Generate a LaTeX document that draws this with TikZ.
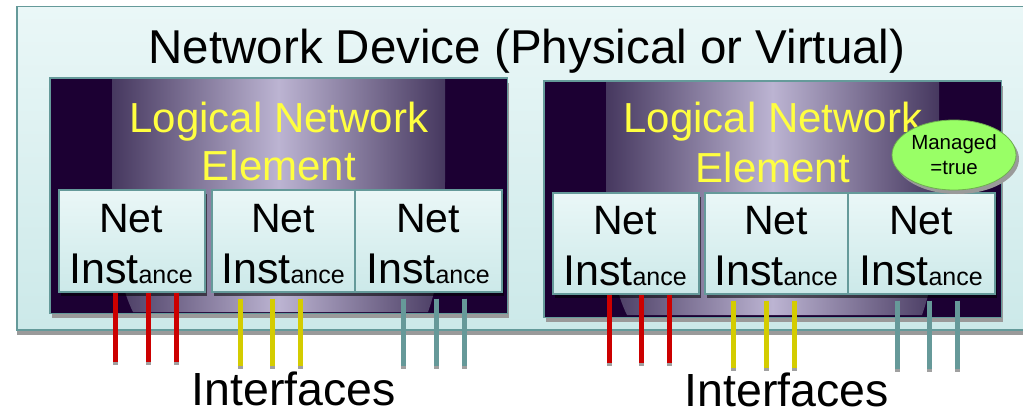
\documentclass[tikz,border=0pt]{standalone}
\usepackage{fontspec}
\setmainfont{Liberation Sans}
\usetikzlibrary{shadows,shapes.geometric}
\definecolor{boxtop}{HTML}{EAF7F7}
\definecolor{boxbot}{HTML}{CCE9E9}
\definecolor{tealb}{HTML}{659A9A}
\definecolor{lnebg}{HTML}{1C0033}
\definecolor{glowedge}{HTML}{46385F}
\definecolor{glowmid}{HTML}{BCB4D2}
\definecolor{lneyellow}{HTML}{FFFF40}
\definecolor{mgreen}{HTML}{99FF66}
\definecolor{mgreenb}{HTML}{6FAF50}
\definecolor{ifred}{HTML}{CC0000}
\definecolor{ifyellow}{HTML}{D4CC00}
\definecolor{ifteal}{HTML}{669999}
\definecolor{shadowgray}{HTML}{9A9A9A}
\definecolor{tipgray}{HTML}{A0A0A0}
\begin{document}
\begin{tikzpicture}[x=1pt,y=-1pt,
  devbox/.style={draw=tealb, line width=1.5pt, top color=boxtop, bottom color=boxbot,
    drop shadow={shadow xshift=0pt, shadow yshift=-5pt, fill=shadowgray, opacity=1},
    anchor=north west, inner sep=0pt},
  lnebox/.style={fill=lnebg, anchor=north west, inner sep=0pt,
    drop shadow={shadow xshift=2pt, shadow yshift=-5pt, fill=shadowgray, opacity=1}},
  lneborder/.style={draw=tealb, line width=1.5pt},
  glow/.style={left color=glowedge, right color=glowedge, middle color=glowmid},
  nibox/.style={draw=tealb, line width=1.5pt, top color=boxtop, bottom color=boxbot,
    anchor=north west, inner sep=0pt,
    drop shadow={shadow xshift=2pt, shadow yshift=-4pt, fill=black, opacity=0.55}},
  titletext/.style={anchor=base, inner sep=0pt, font=\fontsize{47.5}{56}\selectfont},
  lnetext/.style={anchor=base, inner sep=0pt, text=lneyellow, font=\fontsize{42}{50}\selectfont},
  nitext/.style={anchor=base, inner sep=0pt, font=\fontsize{41}{50}\selectfont},
  iftext/.style={anchor=base, inner sep=0pt, text depth=0pt, font=\fontsize{46.5}{55}\selectfont},
  mellipse/.style={ellipse, fill=mgreen, draw=mgreenb, line width=0.8pt, inner sep=0pt,
    minimum width=124pt, minimum height=70pt, align=center,
    font=\fontsize{20.5}{25}\selectfont,
    drop shadow={shadow xshift=3pt, shadow yshift=-4pt, fill=shadowgray, opacity=1}},
  iface/.style={line width=5pt, preaction={draw=tipgray, line width=5pt, shorten >=-3pt}},
  lowstart/.style={shorten <=6pt}
]
\useasboundingbox (0,0) rectangle (1023,412);

% outer device box
\node[devbox, minimum width=1030pt, minimum height=323pt] (dev) at (16,6) {};
\node[titletext] (title) at (527,64) {Network Device (Physical or Virtual)};

% logical network element boxes
\node[lnebox, minimum width=457pt, minimum height=235pt] (lneL) at (50,78) {};
\node[lnebox, minimum width=457pt, minimum height=236pt] (lneR) at (544,81) {};
\shade[glow]
  (112,79) -- (445,79) -- (445,180) .. controls (445,250) and (436,290) .. (428,312)
  -- (133,312) .. controls (122,290) and (112,250) .. (112,180) -- cycle;
\begin{scope}[shift={(494,3)}]
\shade[glow]
  (112,79) -- (445,79) -- (445,180) .. controls (445,250) and (436,290) .. (428,312)
  -- (133,312) .. controls (122,290) and (112,250) .. (112,180) -- cycle;
\end{scope}
\draw[lneborder] (lneL.north west) rectangle (lneL.south east);
\draw[lneborder] (lneR.north west) rectangle (lneR.south east);

\node[lnetext] (lneLa) at (279,132) {Logical Network};
\node[lnetext] (lneLb) at (279,180) {Element};
\node[lnetext] (lneRa) at (773,132) {Logical Network};
\node[lnetext] (lneRb) at (773,182) {Element};

% net instance boxes
\node[nibox, minimum width=146pt, minimum height=102pt] (ni1) at (58,189) {};
\node[nibox, minimum width=143pt, minimum height=102pt] (ni2) at (211,189) {};
\node[nibox, minimum width=147pt, minimum height=102pt] (ni3) at (354,189) {};
\node[nibox, minimum width=146pt, minimum height=101pt] (ni4) at (552,192) {};
\node[nibox, minimum width=143pt, minimum height=101pt] (ni5) at (704,192) {};
\node[nibox, minimum width=147pt, minimum height=101pt] (ni6) at (847,192) {};

\node[nitext] (ni1a) at (131,232) {Net};
\node[nitext] (ni1b) at (131,283) {{\fontsize{43}{50}\selectfont Inst}{\fontsize{25}{32}\selectfont ance}};
\node[nitext] (ni2a) at (283,232) {Net};
\node[nitext] (ni2b) at (283,283) {{\fontsize{43}{50}\selectfont Inst}{\fontsize{25}{32}\selectfont ance}};
\node[nitext] (ni3a) at (428,232) {Net};
\node[nitext] (ni3b) at (428,283) {{\fontsize{43}{50}\selectfont Inst}{\fontsize{25}{32}\selectfont ance}};
\node[nitext] (ni4a) at (625,234) {Net};
\node[nitext] (ni4b) at (625,285) {{\fontsize{43}{50}\selectfont Inst}{\fontsize{25}{32}\selectfont ance}};
\node[nitext] (ni5a) at (776,234) {Net};
\node[nitext] (ni5b) at (776,285) {{\fontsize{43}{50}\selectfont Inst}{\fontsize{25}{32}\selectfont ance}};
\node[nitext] (ni6a) at (921,234) {Net};
\node[nitext] (ni6b) at (921,285) {{\fontsize{43}{50}\selectfont Inst}{\fontsize{25}{32}\selectfont ance}};

% managed flag
\node[mellipse] (managed) at (954,155) {Managed\\=true};

% interfaces
\coordinate (a1) at (115,362); \coordinate (a2) at (148,362); \coordinate (a3) at (176,362);
\coordinate (b1) at (240,366); \coordinate (b2) at (272,366); \coordinate (b3) at (300,366);
\coordinate (c1) at (403,366); \coordinate (c2) at (436,366); \coordinate (c3) at (464,366);
\coordinate (d1) at (609,363); \coordinate (d2) at (641,363); \coordinate (d3) at (669,363);
\coordinate (e1) at (733,368); \coordinate (e2) at (766,368); \coordinate (e3) at (794,368);
\coordinate (f1) at (897,369); \coordinate (f2) at (929,369); \coordinate (f3) at (957,369);

\foreach \p in {a1,a2,a3} \draw[iface, ifred] (ni1.south -| \p) -- (\p);
\foreach \p in {b1,b2,b3} \draw[iface, ifyellow, lowstart] (ni2.south -| \p) -- (\p);
\foreach \p in {c1,c2,c3} \draw[iface, ifteal, lowstart] (ni3.south -| \p) -- (\p);
\foreach \p in {d1,d2,d3} \draw[iface, ifred] (ni4.south -| \p) -- (\p);
\foreach \p in {e1,e2,e3} \draw[iface, ifyellow, lowstart] (ni5.south -| \p) -- (\p);
\foreach \p in {f1,f2,f3} \draw[iface, ifteal, lowstart] (ni6.south -| \p) -- (\p);

\node[iftext] (ifL) at (294,405) {Interfaces};
\node[iftext] (ifR) at (787,406) {Interfaces};
\end{tikzpicture}
\end{document}
